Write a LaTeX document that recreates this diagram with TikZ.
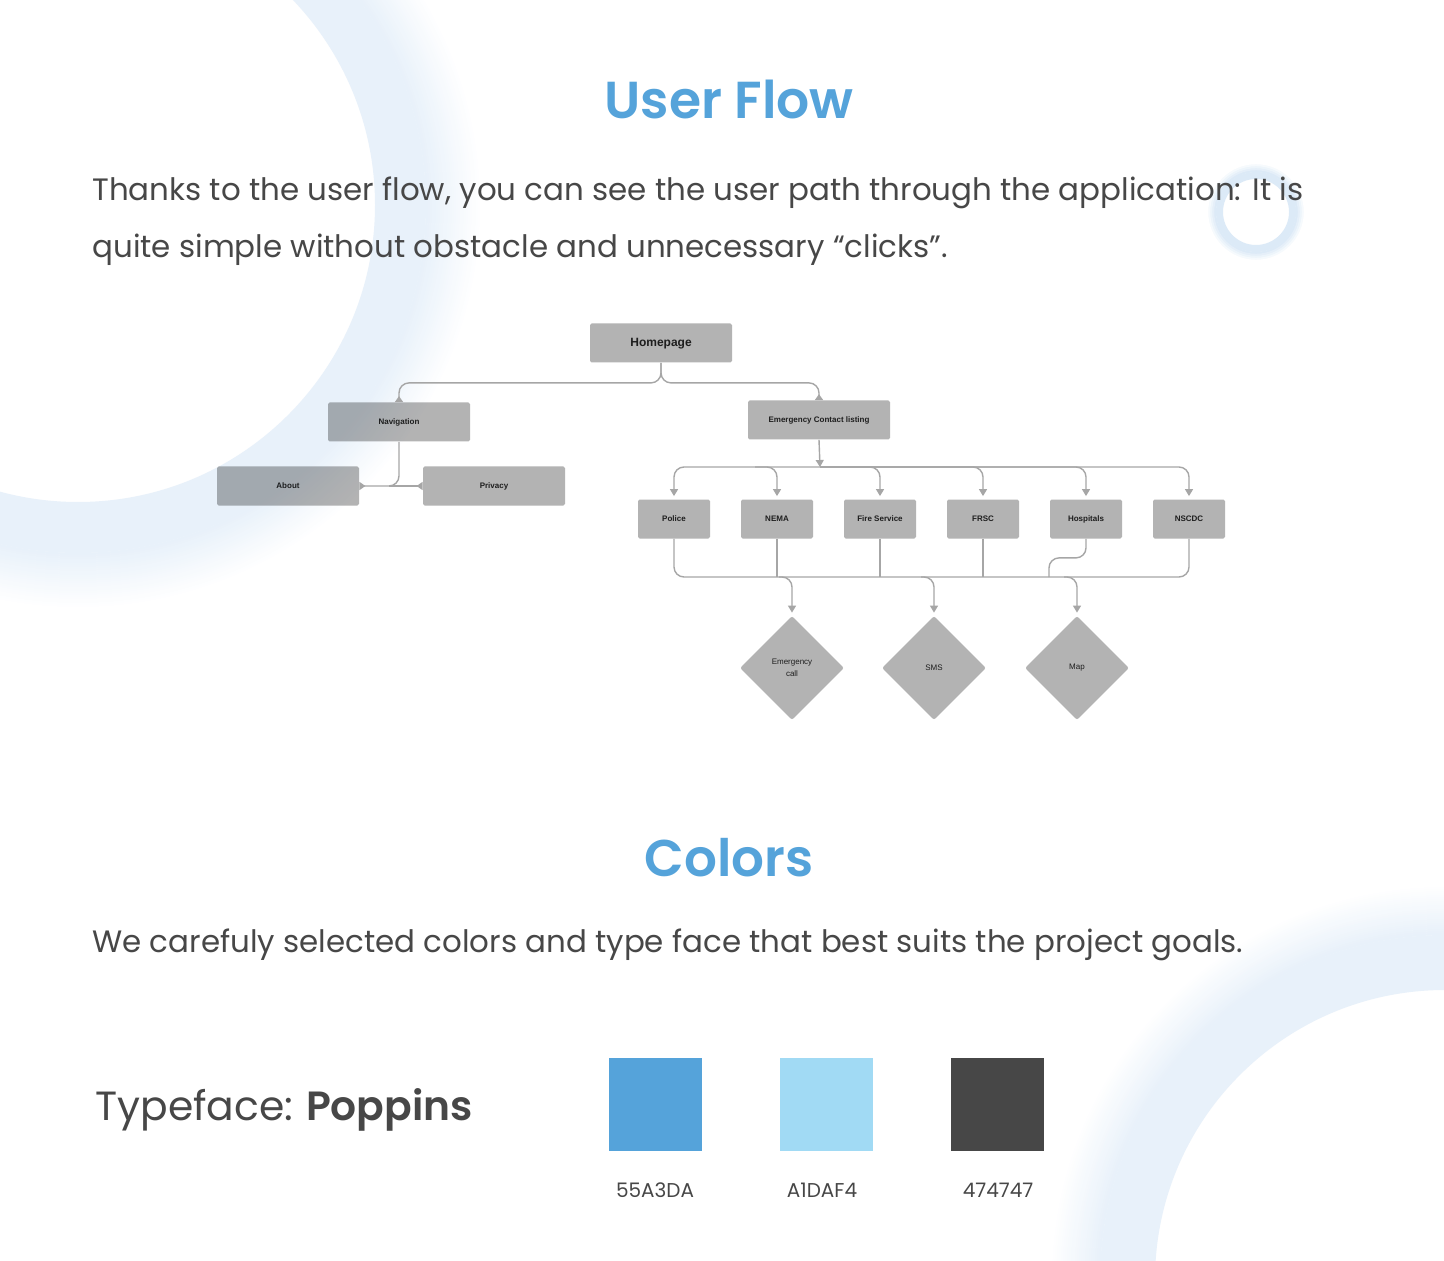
\documentclass[tikz,border=0pt]{standalone}
\usepackage{fontspec}
\usetikzlibrary{arrows.meta,calc,shapes.geometric}
\setmainfont{Poppins}
\newfontfamily\popsemi{Poppins SemiBold}
\newfontfamily\flowfont{Liberation Sans}

\definecolor{brandblue}{HTML}{55A3DA}
\definecolor{skyblue}{HTML}{A1DAF4}
\definecolor{ink}{HTML}{474747}
\definecolor{ringblue}{HTML}{E8F1FA}
\definecolor{ringblueb}{HTML}{DCEAF7}
\definecolor{boxgray}{HTML}{B3B3B3}
\definecolor{wire}{HTML}{A6A6A6}
\definecolor{flowtext}{HTML}{2C2C2C}

% a ring with a solid band that fades out towards its outer edge
% #1 centre, #2 inner radius, #3 end of the solid band, #4 number of fade steps, #5 colour
\newcommand\softring[5]{%
  \fill[#5, even odd rule] #1 circle (#3) #1 circle (#2);
  \foreach \i in {0,...,#4}{%
    \pgfmathsetmacro\pct{100-100*\i/#4}%
    \draw[#5!\pct!white, line width=1.2pt] #1 circle ({#3+2*\i+1});
  }%
}

\tikzset{
  flowbox/.style={rectangle, fill=boxgray, minimum width=71pt, minimum height=19.5pt,
    inner sep=0pt, rounded corners=0.8pt, text=flowtext, text depth=0.6pt,
    font=\flowfont\bfseries\fontsize{4}{5}\selectfont},
  smallbox/.style={flowbox, minimum width=36pt},
  decision/.style={diamond, aspect=1, fill=boxgray, minimum width=52pt, minimum height=52pt,
    inner sep=0pt, rounded corners=1pt, text=flowtext, align=center,
    font=\flowfont\fontsize{4}{6}\selectfont},
  conn/.style={draw=wire, line width=0.7pt},
  inarrow/.style={conn, -{Triangle[width=4pt,length=3.5pt]}, shorten >=1.5pt},
  outarrow/.style={conn, -{Triangle[reversed,width=4pt,length=3pt]}},
  heading/.style={anchor=base, text=brandblue, font=\popsemi\fontsize{26}{30}\selectfont},
  bodytext/.style={anchor=base west, text=ink, inner sep=0pt, font=\fontsize{15.45}{19}\selectfont},
  swatch/.style={minimum size=46.5pt, inner sep=0pt},
  hexlabel/.style={anchor=base, text=ink, inner sep=0pt, font=\fontsize{10}{12}\selectfont}
}

\begin{document}
\begin{tikzpicture}[x=0.5pt, y=-0.5pt]
\useasboundingbox (0,0) rectangle (1444,1261);
\fill[white] (0,0) rectangle (1444,1261);

% background rings
\begin{scope}
  \clip (0,0) rectangle (1444,1261);
  \softring{(78,205)}{297}{348}{27}{ringblue}
  \softring{(1445,1280)}{290}{345}{24}{ringblue}
  \softring{(1256,212)}{33}{40}{4}{ringblueb}
\end{scope}

% headings and copy
\node[heading] (t1) at (729,119) {User Flow};
\node[bodytext] (p1) at (92,201) {Thanks to the user flow, you can see the user path through the application: It is};
\node[bodytext] (p2) at (92,258) {quite simple without obstacle and unnecessary “clicks”.};

% user flow diagram
\begin{scope}[blend mode=multiply]
  \node[flowbox, font=\flowfont\bfseries\fontsize{6}{7}\selectfont, text depth=1pt] (home) at (661,343) {Homepage};
  \node[flowbox] (nav) at (399,422) {Navigation};
  \node[flowbox] (about) at (288,486) {About};
  \node[flowbox] (privacy) at (494,486) {Privacy};
  \node[flowbox] (ecl) at (819,420) {Emergency Contact listing};
  \node[smallbox] (police) at (674,519) {Police};
  \node[smallbox] (nema) at (777,519) {NEMA};
  \node[smallbox] (fire) at (880,519) {Fire Service};
  \node[smallbox] (frsc) at (983,519) {FRSC};
  \node[smallbox] (hosp) at (1086,519) {Hospitals};
  \node[smallbox] (nscdc) at (1189,519) {NSCDC};
  \node[decision] (ecall) at (792,668) {Emergency\\call};
  \node[decision] (sms) at (934,668) {SMS};
  \node[decision] (map) at (1077,668) {Map};
\end{scope}

\coordinate (bus) at (820,467);
\coordinate (low) at (0,577);

% homepage branches
\draw[outarrow, rounded corners=5pt] (home.south) -- ++(0,20) -| (nav.north);
\draw[outarrow, rounded corners=5pt] (home.south) -- ++(0,20) -| (ecl.north);

% navigation branches
\draw[outarrow, rounded corners=5pt] (nav.south) |- (about.east);
\draw[outarrow] ($(nav.south |- privacy.west)+(-10,0)$) -- (privacy.west);

% contact listing to services
\draw[conn, -{Triangle[width=4pt,length=3.5pt]}] (ecl.south) -- (bus);
\draw[inarrow, rounded corners=5pt] (bus) -| (police.north);
\draw[inarrow, rounded corners=5pt] ($(nema.north |- bus)+(-22,0)$) -| (nema.north);
\draw[inarrow, rounded corners=5pt] (bus) -| (fire.north);
\draw[inarrow, rounded corners=5pt] (bus) -| (frsc.north);
\draw[inarrow, rounded corners=5pt] (bus) -| (hosp.north);
\draw[inarrow, rounded corners=5pt] (bus) -| (nscdc.north);

% services to actions
\draw[conn, rounded corners=5pt] (police.south) |- (low -| nscdc.south) -- (nscdc.south);
\draw[conn] (nema.south) -- (nema.south |- low);
\draw[conn] (fire.south) -- (fire.south |- low);
\draw[conn] (frsc.south) -- (frsc.south |- low);
\draw[conn, rounded corners=5pt] (hosp.south) -- ++(0,19) -| ($(hosp.south |- low)+(-37,0)$);
\draw[inarrow, rounded corners=5pt] ($(ecall.north |- low)+(-13,0)$) -| (ecall.north);
\draw[inarrow, rounded corners=5pt] ($(sms.north |- low)+(-13,0)$) -| (sms.north);
\draw[inarrow, rounded corners=5pt] ($(map.north |- low)+(-13,0)$) -| (map.north);

% colours section
\node[heading, font=\popsemi\fontsize{25.8}{30}\selectfont] (t2) at (729,876) {Colors};
\node[bodytext] (p3) at (92,952) {We carefuly selected colors and type face that best suits the project goals.};
\node[anchor=base west, inner sep=0pt, text=ink, font=\fontsize{20.4}{24}\selectfont] (tf) at (95,1120) {Typeface:\hspace{0.32em}{\popsemi Poppins}};

\node[swatch, fill=brandblue] (s1) at (655.5,1104.5) {};
\node[swatch, fill=skyblue] (s2) at (826.5,1104.5) {};
\node[swatch, fill=ink] (s3) at (997.5,1104.5) {};
\node[hexlabel] (h1) at (655,1197) {55A3DA};
\node[hexlabel] (h2) at (822,1197) {A1DAF4};
\node[hexlabel] (h3) at (998,1197) {474747};
\end{tikzpicture}
\end{document}
